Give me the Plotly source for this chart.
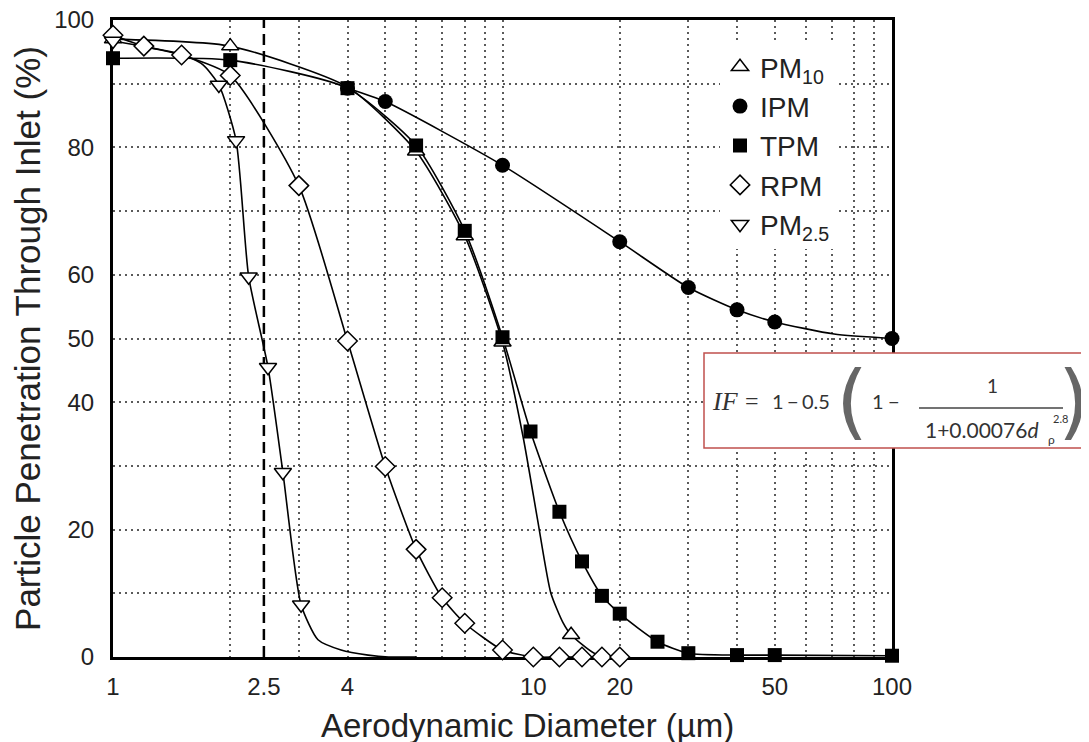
import plotly.graph_objects as go

# values (x in µm, y in %)
PM10_X = [1, 2, 6, 8, 10, 15]
PM10_Y = [97.0, 95.9, 79.4, 66.1, 49.4, 3.5]
PM10_LINE_X = [1, 2, 4, 6, 8, 10, 11.3, 12.3, 13.3, 14.3, 15, 17.2, 20]
PM10_LINE_Y = [97.0, 95.9, 89.5, 79.4, 66.1, 49.4, 34.5, 21.6, 10.1, 5.4, 3.5, 0.6, 0]

IPM_X = [4, 5, 10, 20, 30, 40, 50, 100]
IPM_Y = [89.3, 87.2, 77.2, 65.2, 58.0, 54.5, 52.6, 50.0]
IPM_LINE_X = [4, 5, 10, 20, 30, 40, 50, 71, 100]
IPM_LINE_Y = [89.3, 87.2, 77.2, 65.2, 58.0, 54.5, 52.6, 50.7, 50.0]

TPM_X = [1, 2, 4, 6, 8, 10, 11.8, 14, 16, 18, 20, 25, 30, 40, 50, 100]
TPM_Y = [94.0, 93.7, 89.3, 80.3, 66.9, 50.2, 35.4, 22.8, 15.0, 9.6, 6.8, 2.4, 0.6, 0.3, 0.3, 0.2]

RPM_X = [1, 1.2, 1.5, 2, 3, 4, 5, 6, 7, 8, 10, 12, 14, 16, 18, 20]
RPM_Y = [97.6, 95.9, 94.5, 91.3, 74.0, 49.6, 29.9, 16.9, 9.3, 5.3, 1.1, 0, 0, 0, 0, 0]

PM25_X = [1, 1.87, 2.07, 2.23, 2.5, 2.73, 3.04]
PM25_Y = [96.7, 89.8, 81.1, 59.7, 45.5, 29.0, 8.2]
PM25_LINE_X = [1, 1.5, 1.7, 1.87, 2.07, 2.23, 2.5, 2.73, 3.04, 3.36, 3.85, 4.52, 5.1, 6]
PM25_LINE_Y = [96.7, 94.6, 93.0, 89.8, 81.1, 59.7, 45.5, 29.0, 8.2, 2.7, 1.1, 0.3, 0, 0]

CUT_X = [2.44, 2.44]   # dashed 2.5 µm marker line
CUT_Y = [0, 100]

X_TICKVALS = [1, 2.44, 4, 12, 20, 50, 100]
X_TICKTEXT = ["1", "2.5", "4", "10", "20", "50", "100"]
X_GRID = [2, 3, 4, 5, 6, 7, 8, 9, 10, 20, 30, 40, 50, 60, 70, 80, 90]
Y_TICKVALS = [0, 20, 40, 50, 60, 80, 100]
Y_GRID = [10, 20, 30, 40, 50, 60, 70, 80, 90]

FONT = "Liberation Sans, Arial, sans-serif"
# the page body adds a small margin, so the figure sits a few px in from the corner
OFF_X, OFF_Y = 7, 8
PLOT_L, PLOT_T, PW, PH = 112, 20, 779, 637
W, H = 1089 - OFF_X, 742 - OFF_Y
L, T = PLOT_L - OFF_X, PLOT_T - OFF_Y
R, B = W - L - PW, H - T - PH


def px(x):
    return (x - PLOT_L) / PW


def py(y):
    return (PLOT_T + PH - y) / PH


fig = go.Figure()

# curves first
for xs, ys in [(IPM_LINE_X, IPM_LINE_Y), (TPM_X, TPM_Y), (PM10_LINE_X, PM10_LINE_Y),
               (RPM_X, RPM_Y), (PM25_LINE_X, PM25_LINE_Y)]:
    fig.add_trace(go.Scatter(x=xs, y=ys, mode="lines", showlegend=False, hoverinfo="skip",
                             line=dict(color="black", width=1.6, shape="spline", smoothing=0.6)))

fig.add_trace(go.Scatter(x=CUT_X, y=CUT_Y, mode="lines", showlegend=False, hoverinfo="skip",
                         line=dict(color="black", width=2.5, dash="11px,6px")))

open_mk = dict(color="white", line=dict(color="black", width=1.5))
fig.add_trace(go.Scatter(x=IPM_X, y=IPM_Y, mode="markers", name="IPM", legendrank=2,
                         marker=dict(symbol="circle", size=15, color="black"), cliponaxis=False))
fig.add_trace(go.Scatter(x=PM10_X, y=PM10_Y, mode="markers", name="PM<sub>10</sub>", legendrank=1,
                         marker=dict(symbol="triangle-up", size=15, **open_mk), cliponaxis=False))
fig.add_trace(go.Scatter(x=RPM_X, y=RPM_Y, mode="markers", name="RPM", legendrank=4,
                         marker=dict(symbol="diamond", size=15, **open_mk), cliponaxis=False))
fig.add_trace(go.Scatter(x=PM25_X, y=PM25_Y, mode="markers", name="PM<sub>2.5</sub>", legendrank=5,
                         marker=dict(symbol="triangle-down", size=15, **open_mk), cliponaxis=False))
fig.add_trace(go.Scatter(x=TPM_X, y=TPM_Y, mode="markers", name="TPM", legendrank=3,
                         marker=dict(symbol="square", size=14, color="black"), cliponaxis=False))

grid = dict(showgrid=True, griddash="2px,4px", gridcolor="#5a5a5a", gridwidth=1.7, ticklen=0)

fig.update_xaxes(type="log", range=[0, 2], tickmode="array", tickvals=X_TICKVALS, ticktext=X_TICKTEXT,
                 showgrid=False, ticks="", ticklabelstandoff=6, ticklabeloverflow="allow", zeroline=False,
                 minor=dict(tickmode="array", tickvals=X_GRID, **grid),
                 showline=True, linecolor="black", linewidth=3, mirror=True, layer="below traces",
                 tickfont=dict(size=24, color="#222"))
fig.update_yaxes(range=[0, 100], tickmode="array", tickvals=Y_TICKVALS,
                 showgrid=False, ticks="", ticklabelstandoff=11, ticklabeloverflow="allow", zeroline=False,
                 minor=dict(tickmode="array", tickvals=Y_GRID, **grid),
                 showline=True, linecolor="black", linewidth=3, mirror=True, layer="below traces",
                 tickfont=dict(size=24, color="#222"),
                 title=dict(text="Particle Penetration Through Inlet (%)", font=dict(size=35, color="#222"),
                            standoff=14))

# x title sits a little right of the plot centre in the original
fig.add_annotation(text="Aerodynamic Diameter (µm)", xref="paper", yref="paper", x=px(526), y=py(725),
                   showarrow=False, xanchor="center", yanchor="middle",
                   font=dict(size=33, family=FONT, color="#222"))

# formula box
fig.add_shape(type="rect", xref="paper", yref="paper", x0=px(703), x1=px(1084), y0=py(448), y1=py(353),
              line=dict(color="#c0504d", width=1.5), fillcolor="white", layer="above")
fig.add_shape(type="line", xref="paper", yref="paper", x0=px(918), x1=px(1062), y0=py(408), y1=py(408),
              line=dict(color="#444", width=1.5), layer="above")


def note(text, x, y, size, family="Lato", color="#333", anchor="center"):
    fig.add_annotation(text=text, xref="paper", yref="paper", x=px(x), y=py(y), showarrow=False,
                       xanchor=anchor, yanchor="middle", font=dict(size=size, family=family, color=color))


note("<i>IF</i>", 724, 401, 26, family="Liberation Serif")
note("=", 751, 401, 24, family="Liberation Serif")
note("1", 777, 401, 20)
note("−", 792, 401, 20)
note("0.5", 815, 401, 20)
note("(", 851, 400, 82, family="DejaVu Sans", color="#666")
note("1", 877, 401, 20)
note("−", 893, 401, 20)
note("1", 992, 385, 19)
note("1+0.00076<i>d</i>", 922, 429, 21, anchor="left")
note("ρ", 1050, 439, 12)
note("2.8", 1059, 418, 11)
note(")", 1073, 400, 82, family="DejaVu Sans", color="#666")

fig.update_layout(width=W, height=H, margin=dict(l=L, r=R, t=T, b=B, autoexpand=False),
                  plot_bgcolor="white", paper_bgcolor="white",
                  font=dict(family=FONT, color="#222"),
                  legend=dict(x=px(719), y=py(42), xanchor="left", yanchor="top", bgcolor="white",
                              font=dict(size=28, family=FONT, color="#222"), tracegroupgap=0,
                              itemwidth=30))

fig.write_html("out.html")
